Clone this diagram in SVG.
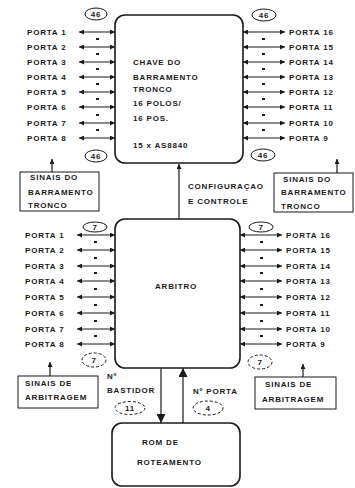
<svg xmlns="http://www.w3.org/2000/svg" width="355" height="488" viewBox="0 0 355 488">
<style>
text{font-family:"Liberation Sans",Arial,sans-serif;font-weight:bold;font-size:8px;letter-spacing:0.8px;fill:#1a1a1a}
.box{fill:#fff;stroke:#1a1a1a;stroke-width:1.6}
.ln{stroke:#1a1a1a;stroke-width:1.2;fill:none}
.pt{stroke:#1a1a1a;stroke-width:1.1;fill:none;marker-start:url(#ah);marker-end:url(#ah)}
.ov{fill:none;stroke:#1a1a1a;stroke-width:1}
.dov{fill:none;stroke:#1a1a1a;stroke-width:1;stroke-dasharray:3 2}
.d{fill:#1a1a1a}
</style>
<defs>
<marker id="ah" viewBox="0 0 10 10" refX="10" refY="5" markerWidth="6" markerHeight="5" markerUnits="userSpaceOnUse" orient="auto-start-reverse"><path d="M0,0 L10,5 L0,10 z" fill="#1a1a1a"/></marker>
<marker id="big" viewBox="0 0 10 10" refX="10" refY="5" markerWidth="10" markerHeight="9" markerUnits="userSpaceOnUse" orient="auto"><path d="M0,0 L10,5 L0,10 z" fill="#1a1a1a"/></marker>
<marker id="sm" viewBox="0 0 10 10" refX="10" refY="5" markerWidth="6" markerHeight="5" markerUnits="userSpaceOnUse" orient="auto"><path d="M0,0 L10,5 L0,10 z" fill="#1a1a1a"/></marker>
</defs>

<g id="connectors">
<!-- top box ports left -->
<line class="pt" x1="79" y1="32" x2="115" y2="32"/>
<line class="pt" x1="79" y1="47" x2="115" y2="47"/>
<line class="pt" x1="79" y1="62" x2="115" y2="62"/>
<line class="pt" x1="79" y1="77" x2="115" y2="77"/>
<line class="pt" x1="79" y1="92" x2="115" y2="92"/>
<line class="pt" x1="79" y1="107" x2="115" y2="107"/>
<line class="pt" x1="79" y1="123" x2="115" y2="123"/>
<line class="pt" x1="79" y1="138" x2="115" y2="138"/>
<!-- top box ports right -->
<line class="pt" x1="243" y1="32" x2="285" y2="32"/>
<line class="pt" x1="243" y1="47" x2="285" y2="47"/>
<line class="pt" x1="243" y1="62" x2="285" y2="62"/>
<line class="pt" x1="243" y1="77" x2="285" y2="77"/>
<line class="pt" x1="243" y1="92" x2="285" y2="92"/>
<line class="pt" x1="243" y1="107" x2="285" y2="107"/>
<line class="pt" x1="243" y1="123" x2="285" y2="123"/>
<line class="pt" x1="243" y1="138" x2="285" y2="138"/>
<!-- arbitro ports left -->
<line class="pt" x1="77" y1="235" x2="115" y2="235"/>
<line class="pt" x1="77" y1="250" x2="115" y2="250"/>
<line class="pt" x1="77" y1="266" x2="115" y2="266"/>
<line class="pt" x1="77" y1="281" x2="115" y2="281"/>
<line class="pt" x1="77" y1="297" x2="115" y2="297"/>
<line class="pt" x1="77" y1="313" x2="115" y2="313"/>
<line class="pt" x1="77" y1="329" x2="115" y2="329"/>
<line class="pt" x1="77" y1="344" x2="115" y2="344"/>
<!-- arbitro ports right -->
<line class="pt" x1="240" y1="235" x2="282" y2="235"/>
<line class="pt" x1="240" y1="250" x2="282" y2="250"/>
<line class="pt" x1="240" y1="266" x2="282" y2="266"/>
<line class="pt" x1="240" y1="281" x2="282" y2="281"/>
<line class="pt" x1="240" y1="297" x2="282" y2="297"/>
<line class="pt" x1="240" y1="313" x2="282" y2="313"/>
<line class="pt" x1="240" y1="329" x2="282" y2="329"/>
<line class="pt" x1="240" y1="344" x2="282" y2="344"/>
<!-- dashes -->
<g class="d">
<rect x="96" y="38" width="3" height="2"/><rect x="96" y="53" width="3" height="2"/><rect x="96" y="68" width="3" height="2"/><rect x="96" y="83" width="3" height="2"/><rect x="96" y="98" width="3" height="2"/><rect x="96" y="114" width="3" height="2"/><rect x="96" y="129" width="3" height="2"/>
<rect x="262" y="38" width="3" height="2"/><rect x="262" y="53" width="3" height="2"/><rect x="262" y="68" width="3" height="2"/><rect x="262" y="83" width="3" height="2"/><rect x="262" y="98" width="3" height="2"/><rect x="262" y="114" width="3" height="2"/><rect x="262" y="129" width="3" height="2"/>
<rect x="94" y="241" width="3" height="2"/><rect x="94" y="257" width="3" height="2"/><rect x="94" y="272" width="3" height="2"/><rect x="94" y="288" width="3" height="2"/><rect x="94" y="304" width="3" height="2"/><rect x="94" y="320" width="3" height="2"/><rect x="94" y="335" width="3" height="2"/>
<rect x="260" y="241" width="3" height="2"/><rect x="260" y="257" width="3" height="2"/><rect x="260" y="272" width="3" height="2"/><rect x="260" y="288" width="3" height="2"/><rect x="260" y="304" width="3" height="2"/><rect x="260" y="320" width="3" height="2"/><rect x="260" y="335" width="3" height="2"/>
</g>
<!-- signal arrows -->
<line class="ln" x1="52" y1="172" x2="52" y2="159" marker-end="url(#sm)"/>
<line class="ln" x1="337" y1="173" x2="337" y2="159" marker-end="url(#sm)"/>
<line class="ln" x1="50" y1="376" x2="50" y2="362" marker-end="url(#sm)"/>
<line class="ln" x1="303" y1="377" x2="303" y2="364" marker-end="url(#sm)"/>
<!-- configuracao -->
<line class="ln" x1="179" y1="219" x2="179" y2="164" marker-end="url(#sm)"/>
<!-- rom -->
<line class="ln" x1="161" y1="368" x2="161" y2="423" marker-end="url(#big)" stroke-width="1.4"/>
<line class="ln" x1="183" y1="423" x2="183" y2="368" marker-end="url(#big)" stroke-width="1.4"/>
</g>

<g id="chave">
<rect class="box" x="115" y="15" width="128" height="148" rx="10"/>
<text x="133" y="65">CHAVE DO</text>
<text x="133" y="80">BARRAMENTO</text>
<text x="133" y="92">TRONCO</text>
<text x="133" y="106">16 POLOS/</text>
<text x="133" y="121">16 POS.</text>
<text x="133" y="148">15 x AS8840</text>
</g>

<g id="chave-ports">
<text x="27" y="35">PORTA 1</text>
<text x="27" y="50">PORTA 2</text>
<text x="27" y="65">PORTA 3</text>
<text x="27" y="80">PORTA 4</text>
<text x="27" y="95">PORTA 5</text>
<text x="27" y="110">PORTA 6</text>
<text x="27" y="126">PORTA 7</text>
<text x="27" y="141">PORTA 8</text>
<text x="289" y="35">PORTA 16</text>
<text x="289" y="50">PORTA 15</text>
<text x="289" y="65">PORTA 14</text>
<text x="289" y="80">PORTA 13</text>
<text x="289" y="95">PORTA 12</text>
<text x="289" y="110">PORTA 11</text>
<text x="289" y="126">PORTA 10</text>
<text x="289" y="141">PORTA 9</text>
<ellipse class="ov" cx="96" cy="14" rx="11" ry="6"/><text x="96" y="17" text-anchor="middle" letter-spacing="0">46</text>
<ellipse class="ov" cx="96" cy="156" rx="11" ry="6"/><text x="96" y="159" text-anchor="middle" letter-spacing="0">46</text>
<ellipse class="ov" cx="264" cy="15" rx="12" ry="6"/><text x="264" y="18" text-anchor="middle" letter-spacing="0">46</text>
<ellipse class="ov" cx="263" cy="155" rx="12" ry="6"/><text x="263" y="158" text-anchor="middle" letter-spacing="0">46</text>
</g>

<g id="sinais-tronco-esq">
<rect x="20" y="172" width="79" height="39" fill="#fff" stroke="#1a1a1a" stroke-width="1"/>
<text x="30" y="180">SINAIS DO</text>
<text x="28" y="195">BARRAMENTO</text>
<text x="28" y="208">TRONCO</text>
</g>

<g id="sinais-tronco-dir">
<rect x="274" y="173" width="79" height="39" fill="#fff" stroke="#1a1a1a" stroke-width="1"/>
<text x="283" y="182">SINAIS DO</text>
<text x="281" y="195">BARRAMENTO</text>
<text x="281" y="209">TRONCO</text>
</g>

<g id="configuracao">
<text x="188" y="189">CONFIGURAÇAO</text>
<text x="188" y="204">E CONTROLE</text>
</g>

<g id="arbitro">
<rect class="box" x="115" y="219" width="125" height="149" rx="10"/>
<text x="155" y="289">ARBITRO</text>
</g>

<g id="arbitro-ports">
<text x="25" y="238">PORTA 1</text>
<text x="25" y="253">PORTA 2</text>
<text x="25" y="269">PORTA 3</text>
<text x="25" y="284">PORTA 4</text>
<text x="25" y="300">PORTA 5</text>
<text x="25" y="316">PORTA 6</text>
<text x="25" y="332">PORTA 7</text>
<text x="25" y="347">PORTA 8</text>
<text x="286" y="238">PORTA 16</text>
<text x="286" y="253">PORTA 15</text>
<text x="286" y="269">PORTA 14</text>
<text x="286" y="284">PORTA 13</text>
<text x="286" y="300">PORTA 12</text>
<text x="286" y="316">PORTA 11</text>
<text x="286" y="332">PORTA 10</text>
<text x="286" y="347">PORTA 9</text>
<ellipse class="ov" cx="95" cy="227" rx="12" ry="5"/><text x="95" y="230" text-anchor="middle">7</text>
<ellipse class="dov" cx="94" cy="360" rx="12" ry="7"/><text x="94" y="363" text-anchor="middle">7</text>
<ellipse class="ov" cx="261" cy="227" rx="12" ry="5"/><text x="261" y="230" text-anchor="middle">7</text>
<ellipse class="dov" cx="260" cy="362" rx="12" ry="7"/><text x="260" y="365" text-anchor="middle">7</text>
</g>

<g id="sinais-arb-esq">
<rect x="18" y="376" width="80" height="32" fill="#fff" stroke="#1a1a1a" stroke-width="1"/>
<text x="25" y="386">SINAIS DE</text>
<text x="25" y="400">ARBITRAGEM</text>
</g>

<g id="sinais-arb-dir">
<rect x="255" y="377" width="81" height="32" fill="#fff" stroke="#1a1a1a" stroke-width="1"/>
<text x="265" y="387">SINAIS DE</text>
<text x="262" y="402">ARBITRAGEM</text>
</g>

<g id="bastidor">
<text x="107" y="379">Nº</text>
<text x="107" y="393">BASTIDOR</text>
<ellipse class="dov" cx="130" cy="408" rx="15" ry="6.5"/>
<text x="130" y="411" text-anchor="middle">11</text>
</g>

<g id="porta">
<text x="193" y="394">Nº PORTA</text>
<ellipse class="dov" cx="208" cy="408" rx="15" ry="7"/>
<text x="208" y="411" text-anchor="middle">4</text>
</g>

<g id="rom">
<rect class="box" x="112" y="423" width="128" height="63" rx="10"/>
<text x="142" y="445">ROM  DE</text>
<text x="137" y="465">ROTEAMENTO</text>
</g>
</svg>
